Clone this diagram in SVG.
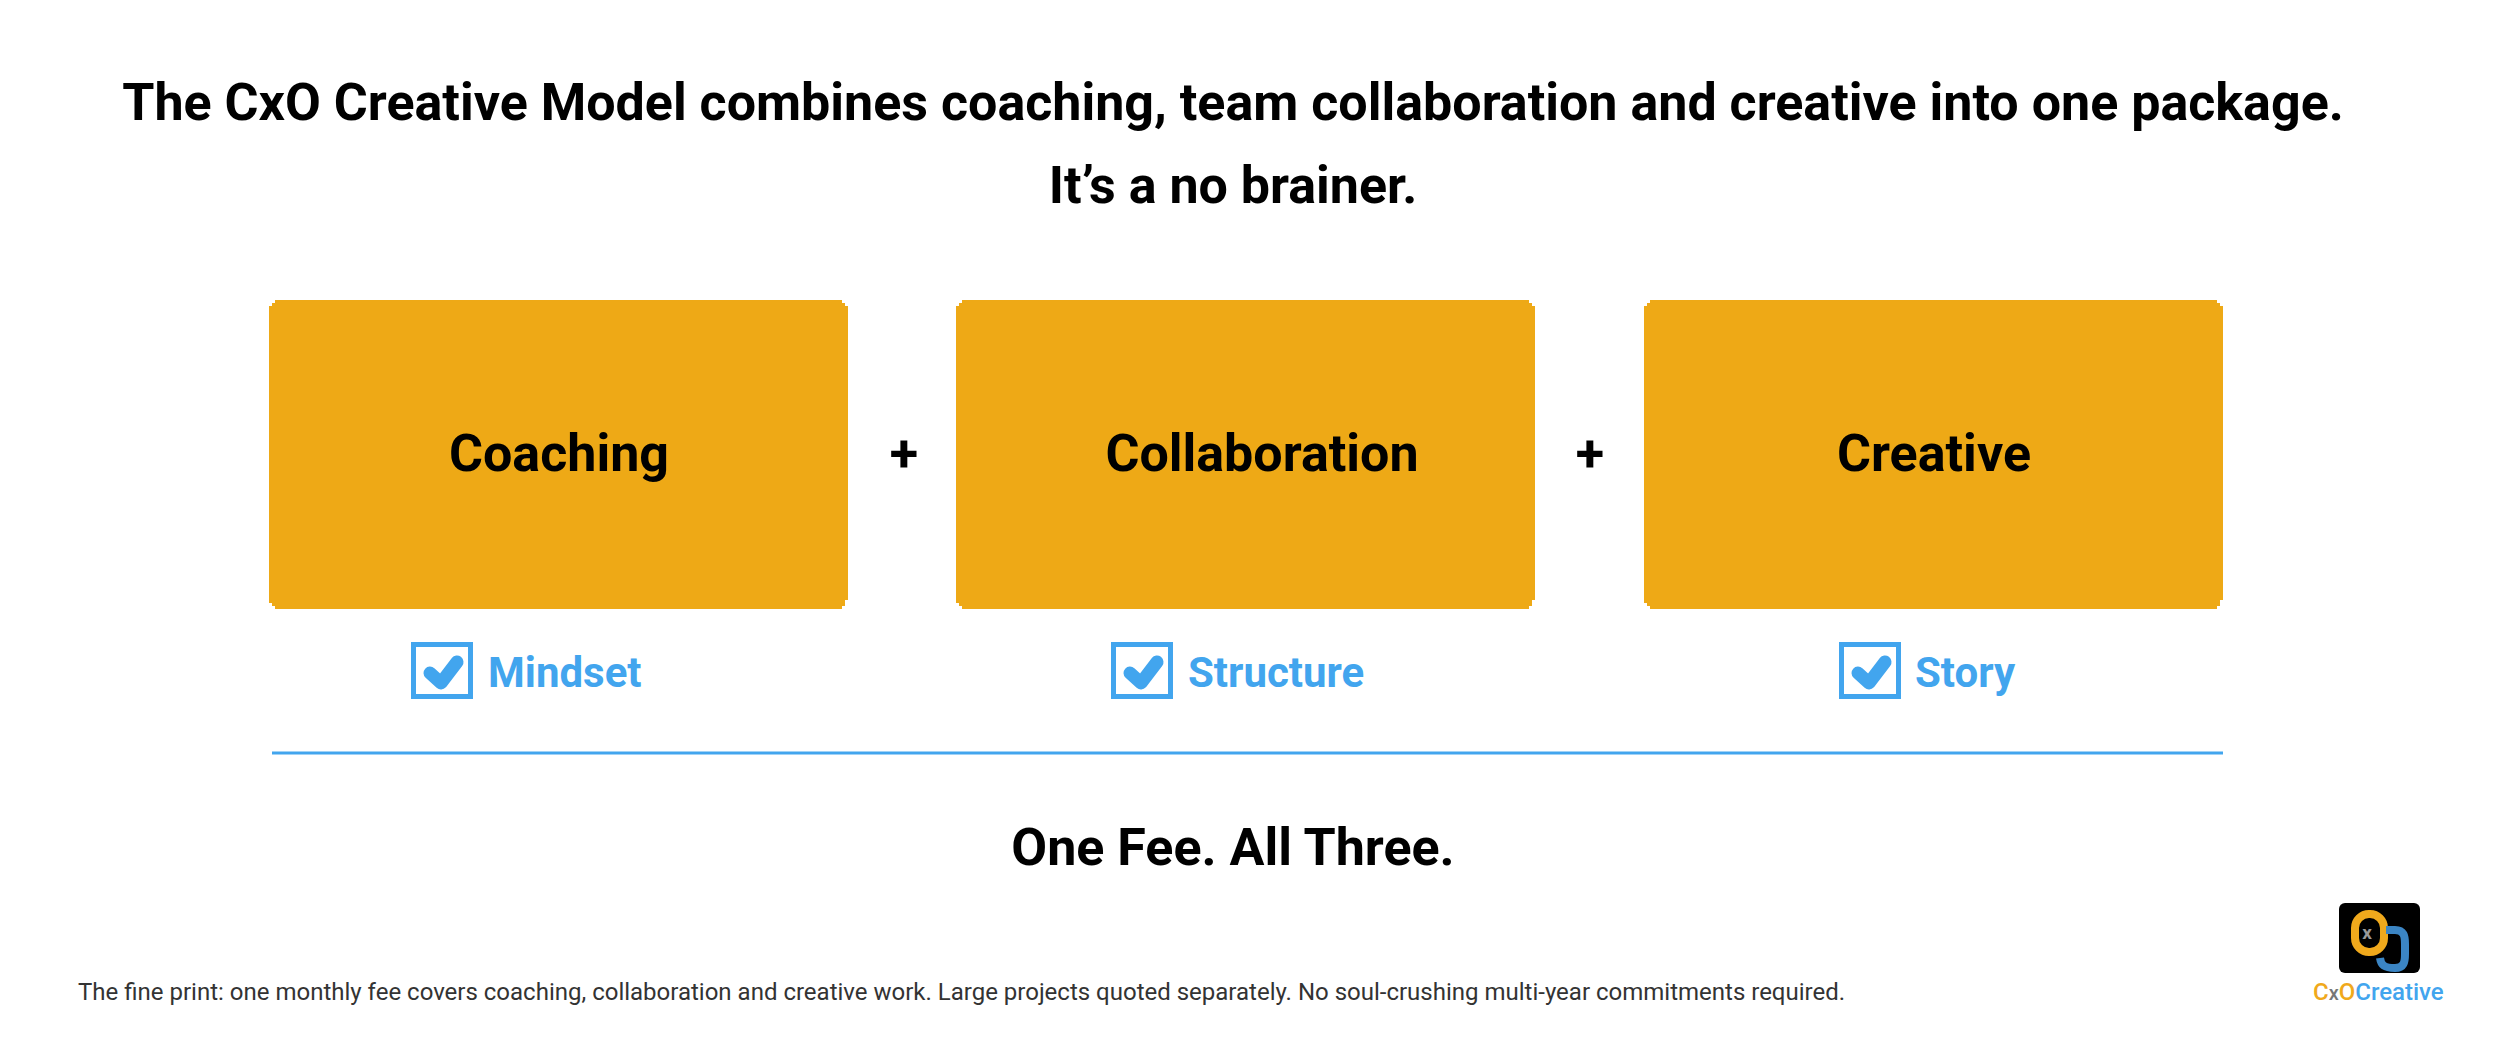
<svg xmlns="http://www.w3.org/2000/svg" width="2500" height="1039" viewBox="0 0 2500 1039">
<style>
text{font-family:Roboto,"Liberation Sans",sans-serif}
.t{font-weight:700;font-size:52px;fill:#000;text-anchor:middle}
.b{font-weight:700;font-size:52px;fill:#000;text-anchor:middle}
.l{font-weight:700;font-size:42px;fill:#42a5ee}
.box{fill:#eea916}
.chk{fill:none;stroke:#42a5ee;stroke-width:5}
.tick{fill:none;stroke:#42a5ee;stroke-width:13;stroke-linecap:round;stroke-linejoin:round}
</style>
<defs>
<path id="bx" class="box" d="M6 0H573V3H576V6H579V300H576V306H573V309H6V306H3V303H0V6H3V3H6Z"/>
<g id="ck"><rect class="chk" x="2.5" y="2.5" width="57" height="52"/><path class="tick" d="M19 31L30 41L46 20"/></g>
</defs>
<rect width="2500" height="1039" fill="#fff"/>
<text class="t" x="1233" y="120">The CxO Creative Model combines coaching, team collaboration and creative into one package.</text>
<text class="t" x="1233" y="203">It’s a no brainer.</text>
<g id="coaching"><use href="#bx" x="269" y="300"/><text class="b" x="559" y="471">Coaching</text></g>
<g id="collaboration"><use href="#bx" x="956" y="300"/><text class="b" x="1262" y="471">Collaboration</text></g>
<g id="creative"><use href="#bx" x="1644" y="300"/><text class="b" x="1934" y="471">Creative</text></g>
<g id="plus1"><text class="b" x="904" y="471">+</text></g>
<g id="plus2"><text class="b" x="1590" y="471">+</text></g>
<g id="mindset"><use href="#ck" x="411" y="642"/><text class="l" x="488" y="687">Mindset</text></g>
<g id="structure"><use href="#ck" x="1111" y="642"/><text class="l" x="1188" y="687">Structure</text></g>
<g id="story"><use href="#ck" x="1839" y="642"/><text class="l" x="1915" y="687">Story</text></g>
<g id="connectors"><line x1="272" y1="753" x2="2223" y2="753" stroke="#42a5ee" stroke-width="3"/></g>
<text class="t" x="1233" y="865">One Fee. All Three.</text>
<text x="78" y="1000" font-size="24" fill="#333">The fine print: one monthly fee covers coaching, collaboration and creative work. Large projects quoted separately. No soul-crushing multi-year commitments required.</text>
<g id="logo">
<rect x="2339" y="903" width="81" height="70" rx="6" fill="#000"/>
<rect x="2355" y="914" width="29" height="38" rx="14" fill="none" stroke="#f0a91c" stroke-width="8"/>
<path d="M2386 937C2393 925 2408 926 2404 926C2398 926 2378 926 2378 950V958" fill="none" stroke="none"/>
<path d="M2386 930H2395C2404 930 2405 936 2405 944V954C2405 962 2404 968 2395 968C2384 968 2381 965 2380 958" fill="none" stroke="#3b85c4" stroke-width="8"/>
<text x="2367" y="939" font-size="19" font-weight="700" fill="#999" text-anchor="middle">x</text>
<text x="2313" y="1000" font-size="24" font-weight="500"><tspan fill="#f0a91c">C</tspan><tspan fill="#777" font-size="20">x</tspan><tspan fill="#f0a91c">O</tspan><tspan fill="#42a5ee">Creative</tspan></text>
</g>
</svg>
